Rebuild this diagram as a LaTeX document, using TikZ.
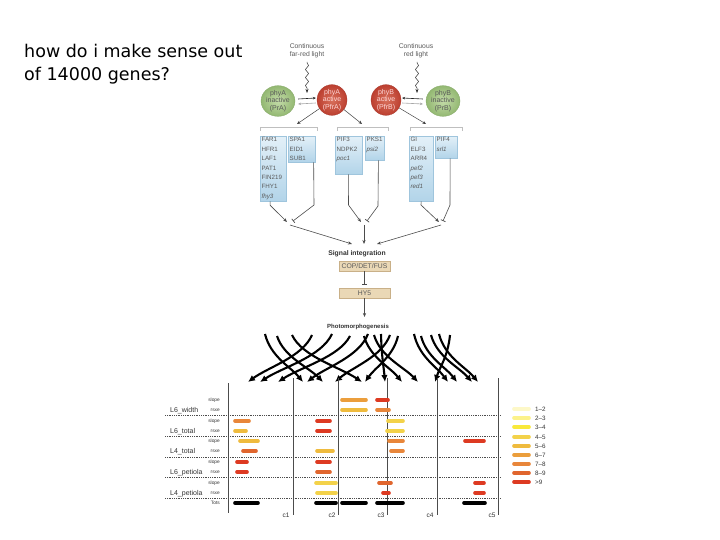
\documentclass[tikz,border=0pt]{standalone}
\usepackage{fontspec}
\setmainfont{Liberation Sans}
\newfontfamily\titlefont{DejaVu Sans}
\usetikzlibrary{arrows.meta,decorations.pathmorphing,shadings,calc,shapes.geometric}
\definecolor{greenin}{HTML}{C3DBA8}
\definecolor{greenout}{HTML}{93B872}
\definecolor{greenbd}{HTML}{84A866}
\definecolor{redin}{HTML}{D8705C}
\definecolor{redout}{HTML}{BC3F30}
\definecolor{redbd}{HTML}{A8392C}
\definecolor{boxtop}{HTML}{E3F0F8}
\definecolor{boxbot}{HTML}{B2D4E9}
\definecolor{boxbd}{HTML}{9FC5DD}
\definecolor{tanfill}{HTML}{EAD8B6}
\definecolor{tanbd}{HTML}{C9B088}
\definecolor{txtgray}{HTML}{5A5A5A}
\definecolor{lg1}{HTML}{FDF8C8}
\definecolor{lg2}{HTML}{FCF28A}
\definecolor{lg3}{HTML}{F9E93A}
\definecolor{lg4}{HTML}{F3D24A}
\definecolor{lg5}{HTML}{EFBB3E}
\definecolor{lg6}{HTML}{EB9E3C}
\definecolor{lg7}{HTML}{E8863A}
\definecolor{lg8}{HTML}{E0662E}
\definecolor{lg9}{HTML}{DD3A22}
\newcommand\mybar[4]{\draw[databar, draw=#4] (#1,#3) -- (#2,#3);}
\newcommand\curv[4]{%
  \coordinate (cs#3) at (#1,#4);
  \coordinate (ce#3) at (#2,382);
  \draw[bigarr] (cs#3) .. controls ({#1+0.15*(#2-#1)},357) and ({#2-0.32*(#2-#1)},367) .. (ce#3);}
\begin{document}
\begin{tikzpicture}[x=1pt,y=-1pt,
  lbl/.style={font=\fontsize{6.8}{7.6}\selectfont, text=txtgray, align=center, inner sep=0},
  wavy/.style={decorate, decoration={snake, amplitude=1.6pt, segment length=8pt, pre length=1pt, post length=4pt}, line width=0.5pt, draw=black!80, -{Stealth[length=4pt,width=3pt]}},
  greenc/.style={ellipse, minimum width=34pt, minimum height=29pt, inner sep=0, inner color=greenin, outer color=greenout, draw=greenbd, line width=0.3pt, align=center, font=\fontsize{7}{7.6}\selectfont, text=black!65},
  redc/.style={ellipse, minimum width=30pt, minimum height=30pt, inner sep=0, inner color=redin, outer color=redout, draw=redbd, line width=0.3pt, align=center, font=\fontsize{7}{7.6}\selectfont, text=red!15!white},
  conv/.style={line width=0.6pt, -{Stealth[length=3pt,width=2.6pt]}},
  thinarr/.style={line width=0.5pt, draw=black!75, -{Stealth[length=3.5pt,width=3pt]}},
  bracket/.style={line width=0.5pt, draw=black!25},
  bbox/.style={anchor=north west, inner sep=1.5pt, top color=boxtop, bottom color=boxbot, draw=boxbd, line width=0.3pt, font=\fontsize{6.2}{9.4}\selectfont, text=txtgray},
  link/.style={line width=0.6pt, draw=black!70},
  act/.style={link, -{Stealth[length=4pt,width=3.2pt]}},
  inh/.style={link, -{Bar[width=5pt,line width=0.7pt]}},
  tanbox/.style={minimum width=51pt, minimum height=10pt, inner sep=0, fill=tanfill, draw=tanbd, line width=0.3pt, font=\fontsize{6.8}{7}\selectfont, text=txtgray},
  boldlbl/.style={font=\bfseries\fontsize{6}{7}\selectfont, text=black!80, inner sep=0},
  bigarr/.style={line width=2.1pt, -{Latex[length=7pt,width=6.5pt]}},
  databar/.style={line width=3.6pt, line cap=round},
  grp/.style={anchor=base west, font=\fontsize{7}{8}\selectfont, text=black!80, inner sep=0},
  sub/.style={anchor=base east, font=\fontsize{4.8}{5}\selectfont, text=black!80, inner sep=0},
  clbl/.style={anchor=base, font=\fontsize{6.5}{7}\selectfont, text=black!80, inner sep=0},
  leg/.style={anchor=west, font=\fontsize{6.3}{7}\selectfont, text=black!80, inner sep=0},
  vline/.style={line width=0.5pt, draw=black!70},
  hline/.style={line width=0.8pt, draw=black!70, densely dotted}
]
\useasboundingbox (0,0) rectangle (720,540);
\fill[white] (0,0) rectangle (720,540);

% title
\node[anchor=base west, inner sep=0, font=\titlefont\fontsize{17.5}{23}\selectfont] (t1) at (24,58) {how do i make sense out};
\node[anchor=base west, inner sep=0, font=\titlefont\fontsize{17.5}{23}\selectfont] (t2) at (24,81) {of 14000 genes?};

% light labels
\node[lbl] (far) at (307,51) {Continuous\\far-red light};
\node[lbl] (red) at (416,51) {Continuous\\red light};
\coordinate (w1s) at (307,62); \coordinate (w1e) at (307,93);
\coordinate (w2s) at (417,62); \coordinate (w2e) at (417,93);
\draw[wavy] (w1s) -- (w1e);
\draw[wavy] (w2s) -- (w2e);

% phytochromes
\node[greenc] (pra) at (278,101) {phyA\\inactive\\(PrA)};
\node[redc] (pfra) at (332,100) {phyA\\active\\(PfrA)};
\node[redc] (pfrb) at (386,100) {phyB\\active\\(PfrB)};
\node[greenc] (prb) at (443,101) {phyB\\inactive\\(PrB)};
\draw[conv, draw=black!85] ($(pra.east)+(3,-2)$) -- ($(pfra.west)+(-1,-2)$);
\draw[conv, draw=black!35] ($(pfra.west)+(-1,3)$) -- ($(pra.east)+(3,3)$);
\draw[conv, draw=black!85] ($(prb.west)+(-3,-2)$) -- ($(pfrb.east)+(1,-2)$);
\draw[conv, draw=black!35] ($(pfrb.east)+(1,3)$) -- ($(prb.west)+(-3,3)$);

% arrows to brackets
\coordinate (aL) at (297,124);
\coordinate (aM) at (362,124);
\coordinate (aR) at (426,124);
\draw[thinarr] (pfra) -- (aL);
\draw[thinarr] (pfra) -- (aM);
\draw[thinarr] (pfrb) -- (aR);
\draw[bracket] (260,131) -- (260,127) -- (317,127) -- (317,131);
\draw[bracket] (337,131) -- (337,127) -- (388,127) -- (388,131);
\draw[bracket] (410,131) -- (410,127) -- (462,127) -- (462,131);

% blue boxes
\node[bbox] (b1) at (260,136) {\parbox[t][62pt][t]{23pt}{FAR1\\HFR1\\LAF1\\PAT1\\FIN219\\FHY1\\\textit{fhy3}}};
\node[bbox] (b2) at (288,136) {\parbox[t][23pt][t]{24pt}{SPA1\\EID1\\SUB1}};
\node[bbox] (b3) at (335,136) {\parbox[t][35pt][t]{24pt}{PIF3\\NDPK2\\\textit{poc1}}};
\node[bbox] (b4) at (365,136) {\parbox[t][21pt][t]{15.5pt}{PKS1\\\textit{psi2}}};
\node[bbox] (b5) at (409,136) {\parbox[t][62pt][t]{21pt}{GI\\ELF3\\ARR4\\\textit{pef2}\\\textit{pef3}\\\textit{red1}}};
\node[bbox] (b6) at (435,136) {\parbox[t][19pt][t]{19pt}{PIF4\\\textit{srl1}}};

% lines to junctions
\coordinate (j1) at (290,225);
\coordinate (j2) at (364,225);
\coordinate (j3) at (441,225);
\draw[act] ([xshift=-3pt]b1.south) -- ++(0,4) -- (287,222);
\draw[inh] ([xshift=12pt]b2.south) -- (314,205) -- (293,221);
\draw[act] (b3.south) -- (348.5,205) -- (361,222);
\draw[inh] ([xshift=4pt]b4.south) -- (378,206) -- (367,221);
\draw[act] (b5.south) -- (421,205) -- (439,222);
\draw[inh] ([xshift=4pt]b6.south) -- (450,205) -- (443,221);

% signal integration
\node[boldlbl, font=\bfseries\fontsize{6.8}{7}\selectfont] (sig) at (357,254) {Signal integration};
\coordinate (s1) at (352,244);
\coordinate (s2) at (364,244);
\coordinate (s3) at (377,244);
\draw[act] (j1) -- (s1);
\draw[act] (j2) -- (s2);
\draw[act] (j3) -- (s3);
\node[tanbox] (cop) at (364.5,266) {COP/DET/FUS};
\node[tanbox] (hy5) at (364.5,293) {HY5};
\coordinate (hyT) at (364.5,285);
\draw[inh] (cop.south) -- (hyT);
\node[boldlbl] (photo) at (358,327) {Photomorphogenesis};
\coordinate (ph) at (364.5,317);
\draw[act] (hy5.south) -- (ph);

% big curved arrows
\curv{312}{248}{1}{335}
\curv{332}{260}{2}{334}
\curv{350}{278}{3}{336}
\curv{368}{307}{4}{334}
\curv{390}{335}{5}{335}
\curv{398}{365}{6}{336}
\curv{450}{435}{7}{335}
\curv{265}{303}{8}{334}
\curv{277}{323}{9}{336}
\curv{292}{362}{10}{335}
\curv{381}{385}{11}{334}
\curv{364}{402}{12}{336}
\curv{374}{418}{13}{335}
\curv{414}{448}{14}{334}
\curv{421}{457}{15}{336}
\curv{431}{472}{16}{335}
\curv{439}{478}{17}{334}

% chart grid
\draw[vline] (228,383) -- (228,513);
\draw[vline] (293,378) -- (293,515);
\draw[vline] (338,378) -- (338,515);
\draw[vline] (387,378) -- (387,515);
\draw[vline] (437,378) -- (437,515);
\draw[vline] (498,378) -- (498,515);
\foreach \yy in {415,436,457,477,498} \draw[hline] (165,\yy) -- (500,\yy);

\node[clbl] (c1) at (286,517) {c1};
\node[clbl] (c2) at (332,517) {c2};
\node[clbl] (c3) at (381,517) {c3};
\node[clbl] (c4) at (430,517) {c4};
\node[clbl] (c5) at (492,517) {c5};

% row labels
\node[grp] (g1) at (170,412.5) {L6\_width};
\node[grp] (g2) at (170,433.5) {L6\_total};
\node[grp] (g3) at (170,453.5) {L4\_total};
\node[grp] (g4) at (170,474.5) {L6\_petiola};
\node[grp] (g5) at (170,495.5) {L4\_petiola};
\foreach \yy/\nm in {401.5/s1,422.5/s2,442.5/s3,463.5/s4,484.5/s5}
  \node[sub] (sl\nm) at (220,\yy) {slope};
\foreach \yy/\nm in {411.5/r1,432.5/r2,452.5/r3,473.5/r4,494.5/r5}
  \node[sub] (rs\nm) at (220,\yy) {rsxe};
\node[sub] (tots) at (220,504.5) {Tots};

% data bars
\mybar{342}{366}{400}{lg6}
\mybar{377}{388}{400}{lg9}
\mybar{342}{366}{410}{lg5}
\mybar{377}{389}{410}{lg7}
\mybar{235}{249}{421}{lg7}
\mybar{317}{330}{421}{lg9}
\mybar{388}{403}{421}{lg4}
\mybar{235}{246}{431}{lg5}
\mybar{317}{330}{431}{lg9}
\mybar{387}{403}{431}{lg4}
\mybar{240}{258}{441}{lg5}
\mybar{389}{403}{441}{lg7}
\mybar{465}{484}{441}{lg9}
\mybar{243}{256}{451}{lg8}
\mybar{317}{333}{451}{lg5}
\mybar{391}{403}{451}{lg7}
\mybar{237}{247}{462}{lg9}
\mybar{317}{330}{462}{lg9}
\mybar{237}{247}{472}{lg9}
\mybar{317}{330}{472}{lg8}
\mybar{316}{336}{483}{lg4}
\mybar{379}{391}{483}{lg8}
\mybar{475}{484}{483}{lg9}
\mybar{317}{336}{493}{lg4}
\mybar{383}{389}{493}{lg9}
\mybar{475}{484}{493}{lg9}
\mybar{235}{258}{503}{black}
\mybar{316}{336}{503}{black}
\mybar{342}{366}{503}{black}
\mybar{377}{403}{503}{black}
\mybar{464}{485}{503}{black}

% legend
\foreach \yy/\cc/\tt [count=\i] in {409/lg1/1--2, 418/lg2/2--3, 427/lg3/3--4, 437/lg4/4--5, 446/lg5/5--6, 455/lg6/6--7, 464/lg7/7--8, 473/lg8/8--9, 482/lg9/>9}{
  \mybar{514}{529}{\yy}{\cc}
  \node[leg] (leg\i) at (535,\yy) {\tt};
}
\end{tikzpicture}
\end{document}
